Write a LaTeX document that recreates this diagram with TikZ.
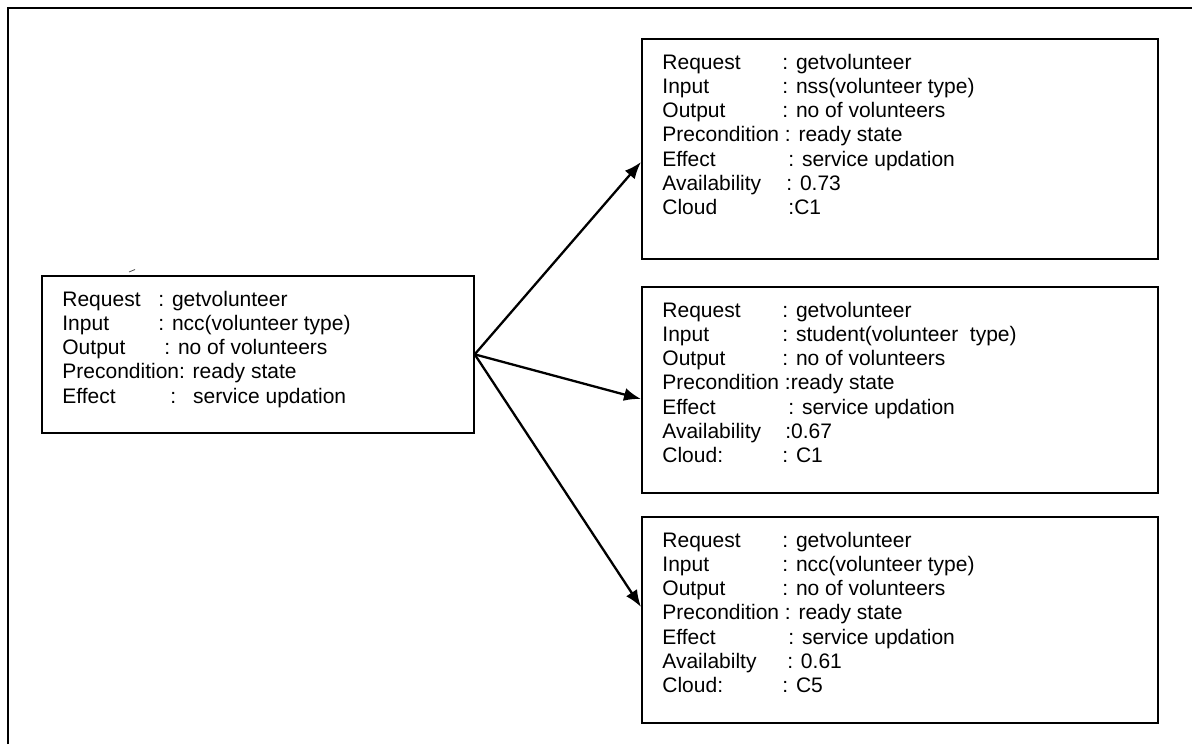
\documentclass[tikz,border=0pt]{standalone}
\usepackage{fontspec}
\setmainfont{Liberation Sans}
\usetikzlibrary{arrows.meta}

% one "label : value" line with the label set in a box of given width
\newcommand{\fldrow}[3]{\hbox{\makebox[#1][l]{#2}#3}}
\newcommand{\plainrow}[1]{\hbox{#1}}

\begin{document}
\begin{tikzpicture}[x=0.5pt,y=-0.5pt,
  svcbox/.style={draw=black,line width=0.85pt,inner sep=0pt,anchor=north west},
  svctext/.style={anchor=base west,inner sep=0pt,font=\fontsize{10.5pt}{12.15pt}\selectfont},
  flow/.style={line width=1.15pt,-{Latex[length=8.5pt,width=6.5pt]}}
]
\useasboundingbox (0,0) rectangle (1192,744);

% page frame (runs off the right and bottom)
\draw[line width=1.25pt] (8,744) -- (8,8) -- (1192,8);

% request box
\node[svcbox,minimum width=216pt,minimum height=78.5pt] (lbox) at (41,275) {};
\node[svctext] (ltext) at (62,306) {\vtop{\baselineskip=12.15pt
  \fldrow{48pt}{Request}{: getvolunteer}
  \fldrow{48pt}{Input}{: ncc(volunteer type)}
  \fldrow{51pt}{Output}{: no of volunteers}
  \plainrow{Precondition: ready state}
  \fldrow{54pt}{Effect}{:\hspace{8.5pt}service updation}}};
\draw[line width=0.4pt,black!70] (129,272) -- (135,269.5);

% candidate services
\node[svcbox,minimum width=258pt,minimum height=110pt] (tbox) at (641,38) {};
\node[svctext] (ttext) at (662,69) {\vtop{\baselineskip=12.15pt
  \fldrow{60pt}{Request}{: getvolunteer}
  \fldrow{60pt}{Input}{: nss(volunteer type)}
  \fldrow{60pt}{Output}{: no of volunteers}
  \plainrow{Precondition : ready state}
  \fldrow{63pt}{Effect}{: service updation}
  \fldrow{62pt}{Availability}{: 0.73}
  \fldrow{63pt}{Cloud}{:C1}}};

\node[svcbox,minimum width=258pt,minimum height=103pt] (mbox) at (641,286) {};
\node[svctext] (mtext) at (662,317) {\vtop{\baselineskip=12.15pt
  \fldrow{60pt}{Request}{: getvolunteer}
  \fldrow{60pt}{Input}{: student(volunteer\ \ type)}
  \fldrow{60pt}{Output}{: no of volunteers}
  \plainrow{Precondition :ready state}
  \fldrow{63pt}{Effect}{: service updation}
  \fldrow{61.5pt}{Availability}{:0.67}
  \fldrow{60pt}{Cloud:}{: C1}}};

\node[svcbox,minimum width=258pt,minimum height=103pt] (bbox) at (641,516) {};
\node[svctext] (btext) at (662,547) {\vtop{\baselineskip=12.15pt
  \fldrow{60pt}{Request}{: getvolunteer}
  \fldrow{60pt}{Input}{: ncc(volunteer type)}
  \fldrow{60pt}{Output}{: no of volunteers}
  \plainrow{Precondition : ready state}
  \fldrow{63pt}{Effect}{: service updation}
  \fldrow{62.5pt}{Availabilty}{: 0.61}
  \fldrow{60pt}{Cloud:}{: C5}}};

% arrow targets on the left sides of the candidate boxes
\coordinate (tin) at (641,162);
\coordinate (min) at (641,399);
\coordinate (bin) at (641,607);

\draw[flow] (lbox.east) -- (tin);
\draw[flow] (lbox.east) -- (min);
\draw[flow] (lbox.east) -- (bin);
\end{tikzpicture}
\end{document}
